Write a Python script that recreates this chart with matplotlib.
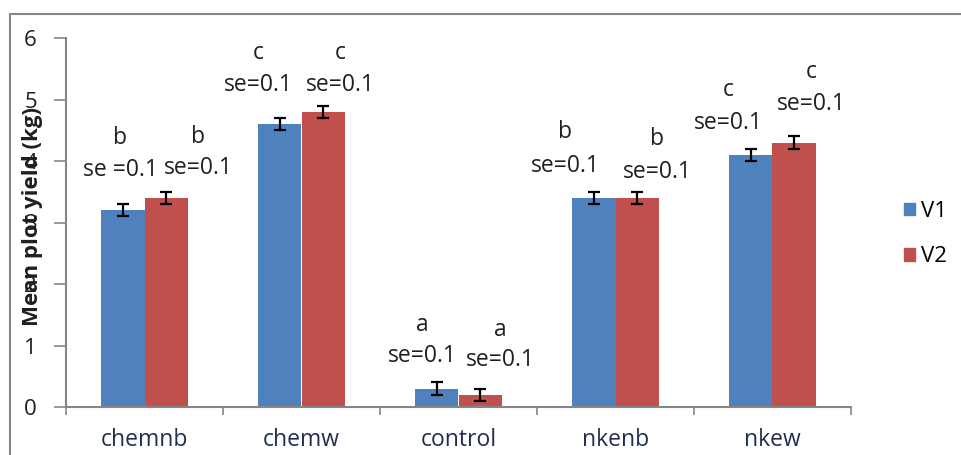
import matplotlib.pyplot as plt
from matplotlib.patches import Patch
from matplotlib.lines import Line2D
import numpy as np

categories = ["chemnb", "chemw", "control", "nkenb", "nkew"]
v1 = [3.2, 4.6, 0.3, 3.4, 4.1]
v2 = [3.4, 4.8, 0.2, 3.4, 4.3]
se = [0.1, 0.1, 0.1, 0.1, 0.1]

# annotation text: letters and se labels for each bar
letters_v1 = ["b", "c", "a", "b", "c"]
letters_v2 = ["b", "c", "a", "b", "c"]
se_v1 = ["se =0.1", "se=0.1", "se=0.1", "se=0.1", "se=0.1"]
se_v2 = ["se=0.1", "se=0.1", "se=0.1", "se=0.1", "se=0.1"]
# label positions (x offset from category centre, y of se text, y of letter)
lab_dx_v1 = [-0.156, -0.277, -0.232, -0.32, -0.283]
lab_dx_v2 = [0.34, 0.245, 0.264, 0.264, 0.245]
lab_se_y_v1 = [3.85, 5.24, 0.83, 3.92, 4.62]
lab_se_y_v2 = [3.89, 5.24, 0.76, 3.82, 4.93]
lab_let_y_v1 = [4.37, 5.76, 1.33, 4.47, 5.15]
lab_let_y_v2 = [4.39, 5.76, 1.25, 4.36, 5.45]

BLUE = "#4F81BD"
RED = "#C0504D"
GRAY = "#868686"
TXT = "#1f1f1f"

plt.rcParams["font.family"] = ["Open Sans", "DejaVu Sans"]

W, H = 961, 455
fig = plt.figure(figsize=(9.61, 4.55), dpi=100)
ax = fig.add_axes([66 / W, (H - 407) / H, (851 - 66) / W, (407 - 38) / H])

x = np.arange(len(categories))
bw = 0.28
ax.bar(x - bw / 2, v1, bw, color=BLUE, yerr=se, capsize=4.5,
       error_kw=dict(ecolor="black", elinewidth=1.6, capthick=1.6))
ax.bar(x + bw / 2, v2, bw, color=RED, yerr=se, capsize=4.5,
       error_kw=dict(ecolor="black", elinewidth=1.6, capthick=1.6))

fs = 16.5
for i in range(len(categories)):
    ax.text(x[i] + lab_dx_v1[i], lab_se_y_v1[i], se_v1[i], ha="center", va="center", fontsize=fs, color=TXT)
    ax.text(x[i] + lab_dx_v1[i], lab_let_y_v1[i], letters_v1[i], ha="center", va="center", fontsize=fs, color=TXT)
    ax.text(x[i] + lab_dx_v2[i], lab_se_y_v2[i], se_v2[i], ha="center", va="center", fontsize=fs, color=TXT)
    ax.text(x[i] + lab_dx_v2[i], lab_let_y_v2[i], letters_v2[i], ha="center", va="center", fontsize=fs, color=TXT)

ax.set_xlim(-0.5, len(categories) - 0.5)
ax.set_ylim(0, 6)
ax.set_yticks(range(7))
ax.tick_params(axis="y", length=9, width=1.2, color=GRAY, labelsize=16, pad=12, labelcolor=TXT)
ax.set_xticks(np.arange(-0.5, len(categories), 1.0))
ax.set_xticklabels([])
ax.tick_params(axis="x", which="major", length=6, width=1.2, color=GRAY)
ax.set_xticks(x, minor=True)
ax.set_xticklabels(categories, minor=True)
ax.tick_params(axis="x", which="minor", length=0, labelsize=16.5, pad=15, labelcolor="#1f2f4f")

for s in ["top", "right"]:
    ax.spines[s].set_visible(False)
for s in ["left", "bottom"]:
    ax.spines[s].set_color(GRAY)
    ax.spines[s].set_linewidth(1.5)

fig.text(33 / W, (H - 217) / H, "Mean plot yield (kg)", rotation=90, ha="center", va="center",
         fontsize=16, fontweight="bold", color=TXT)

handles = [Patch(color=BLUE, label="V1"), Patch(color=RED, label="V2")]
fig.legend(handles=handles, loc="center left", bbox_to_anchor=(884 / W, (H - 234) / H),
           frameon=False, fontsize=16, handlelength=0.5, handleheight=0.5,
           handletextpad=0.25, labelspacing=1.1)

# outer chart frame (cut off at right and bottom)
fig.add_artist(Line2D([10 / W, 10 / W], [0, (H - 14) / H], color=GRAY, lw=1.5))
fig.add_artist(Line2D([10 / W, 1], [(H - 14) / H, (H - 14) / H], color=GRAY, lw=1.5))

fig.savefig("out.png", dpi=100)
